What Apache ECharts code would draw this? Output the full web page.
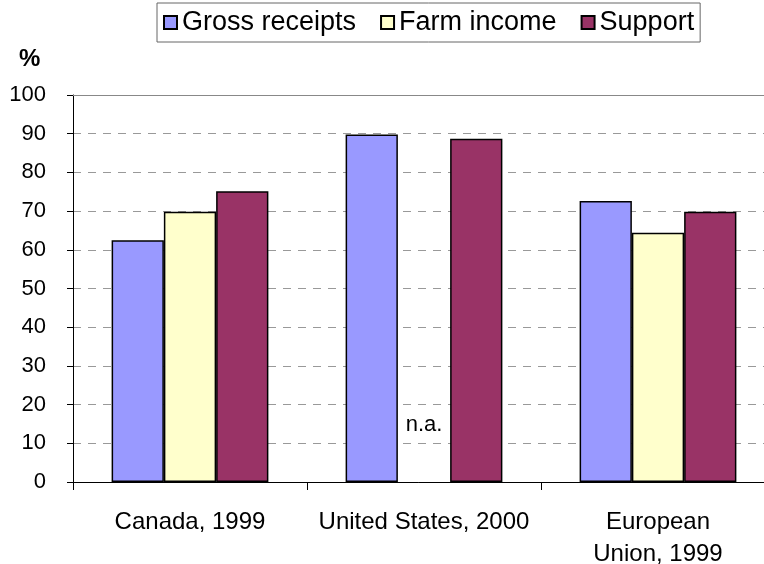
<!DOCTYPE html>
<html>
<head>
<meta charset="utf-8">
<script src="https://cdn.jsdelivr.net/npm/echarts@6/dist/echarts.min.js"></script>
<style>
  body { margin: 0; background: #fff; }
  #main { width: 764px; height: 564px; }
</style>
</head>
<body>
<div id="main"></div>
<script>
// data (percent)
var categories = ['Canada, 1999', 'United States, 2000', 'European\nUnion, 1999'];
var grossReceipts = [62.5, 89.8, 72.6];
var farmIncome = [69.8, null, 64.4];   // US: not available
var support = [75.1, 88.7, 69.8];
var yTicks = [0, 10, 20, 30, 40, 50, 60, 70, 80, 90, 100];

var font = 'Liberation Sans, Arial, sans-serif';
var myChart = echarts.init(document.getElementById('main'));

function barStyle(color) {
  return { color: color, borderColor: '#000', borderWidth: 1.5 };
}

// the US farm income slot shows "n.a." instead of a bar
var farmData = farmIncome.map(function (v) {
  if (v === null) {
    return {
      value: 0,
      itemStyle: { borderWidth: 0 },
      label: { show: true, position: 'top', distance: 46, formatter: 'n.a.',
               fontFamily: font, fontSize: 22, color: '#000' }
    };
  }
  return v;
});

myChart.setOption({
  animation: false,
  backgroundColor: '#fff',
  title: {
    text: '%',
    left: 14,
    top: 42,
    textStyle: { fontFamily: font, fontSize: 24, fontWeight: 'bold', color: '#000' }
  },
  legend: {
    left: 157,
    top: 3,
    padding: [6, 6],
    itemGap: 24,
    itemWidth: 13,
    itemHeight: 13,
    icon: 'rect',
    borderColor: '#666',
    borderWidth: 1,
    textStyle: { fontFamily: font, fontSize: 27, color: '#000' },
    data: ['Gross receipts', 'Farm income', 'Support']
  },
  grid: {
    left: 73,
    right: -11,
    top: 95,
    bottom: 82,
    outerBoundsMode: 'none'
  },
  xAxis: [{
    type: 'category',
    data: categories,
    axisLine: { lineStyle: { color: '#000', width: 1 } },
    axisTick: { show: true, length: 8, interval: 0, lineStyle: { color: '#000' } },
    axisLabel: { interval: 0, margin: 24, fontFamily: font, fontSize: 24, lineHeight: 32, color: '#000' }
  }, {
    type: 'category',
    position: 'top',
    data: categories,
    axisLine: { lineStyle: { color: '#888', width: 1 } },
    axisTick: { show: false },
    axisLabel: { show: false }
  }],
  yAxis: {
    type: 'value',
    min: yTicks[0],
    max: yTicks[yTicks.length - 1],
    interval: 10,
    axisLine: { show: true, lineStyle: { color: '#000', width: 1 } },
    axisTick: { show: true, length: 6, lineStyle: { color: '#000' } },
    axisLabel: { margin: 27, fontFamily: font, fontSize: 22, color: '#000' },
    splitLine: { lineStyle: { color: '#999', type: [8, 7], width: 1 } }
  },
  series: [{
    name: 'Gross receipts',
    type: 'bar',
    barGap: '0%',
    barCategoryGap: '33%',
    data: grossReceipts,
    itemStyle: barStyle('#9999FF')
  }, {
    name: 'Farm income',
    type: 'bar',
    barGap: '0%',
    barCategoryGap: '33%',
    data: farmData,
    itemStyle: barStyle('#FFFFCC')
  }, {
    name: 'Support',
    type: 'bar',
    barGap: '0%',
    barCategoryGap: '33%',
    data: support,
    itemStyle: barStyle('#993366')
  }]
});
</script>
</body>
</html>
